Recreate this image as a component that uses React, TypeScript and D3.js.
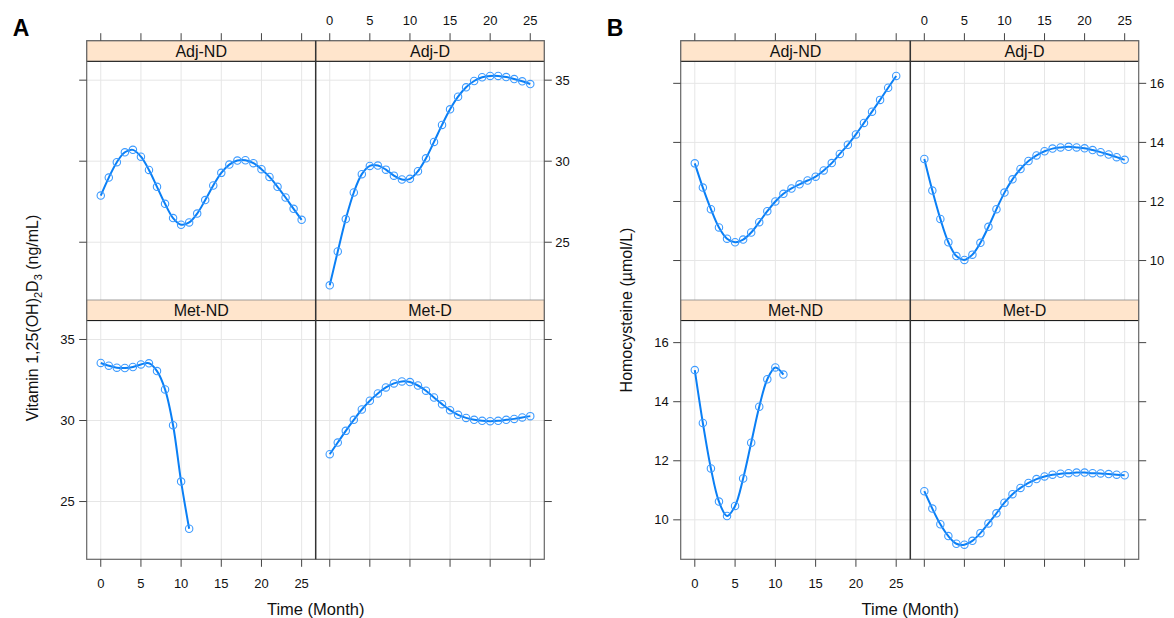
import React from 'react';
import * as d3 from 'd3';

// months of follow-up
const months = [0, 1, 2, 3, 4, 5, 6, 7, 8, 9, 10, 11, 12, 13, 14, 15, 16, 17, 18, 19, 20, 21, 22, 23, 24, 25];
const xTicks = [0, 5, 10, 15, 20, 25];
const panelNames = ['Adj-ND', 'Adj-D', 'Met-ND', 'Met-D'];

// A: vitamin 1,25(OH)2D3 (ng/mL)
const vitAdjND = [27.88, 28.99, 29.94, 30.55, 30.7, 30.28, 29.46, 28.42, 27.37, 26.49, 26.08, 26.22, 26.77, 27.6, 28.5, 29.28, 29.79, 30.04, 30.06, 29.88, 29.51, 29.03, 28.42, 27.76, 27.06, 26.38];
const vitAdjD = [22.34, 24.43, 26.43, 28.07, 29.2, 29.71, 29.73, 29.48, 29.11, 28.87, 28.91, 29.38, 30.18, 31.19, 32.24, 33.2, 33.98, 34.56, 34.95, 35.18, 35.26, 35.26, 35.19, 35.07, 34.93, 34.76];
const vitMetND = [33.55, 33.38, 33.26, 33.24, 33.3, 33.46, 33.53, 33.05, 31.92, 29.71, 26.23, 23.32];
const vitMetD = [27.92, 28.64, 29.36, 30.04, 30.68, 31.22, 31.67, 32.04, 32.29, 32.41, 32.37, 32.16, 31.84, 31.42, 31.01, 30.64, 30.35, 30.16, 30.04, 29.98, 29.96, 29.98, 30.04, 30.1, 30.19, 30.27];
const vitTicks = [25, 30, 35];

// B: homocysteine (umol/L)
const hcyAdjND = [13.29, 12.47, 11.74, 11.12, 10.74, 10.62, 10.71, 10.95, 11.3, 11.67, 12.0, 12.26, 12.44, 12.58, 12.71, 12.84, 13.05, 13.3, 13.61, 13.92, 14.27, 14.66, 15.04, 15.44, 15.85, 16.25];
const hcyAdjD = [13.44, 12.37, 11.41, 10.62, 10.15, 10.02, 10.2, 10.6, 11.14, 11.74, 12.3, 12.75, 13.1, 13.37, 13.56, 13.7, 13.79, 13.83, 13.85, 13.83, 13.8, 13.74, 13.67, 13.59, 13.5, 13.41];
const hcyMetND = [15.07, 13.28, 11.74, 10.62, 10.13, 10.47, 11.4, 12.61, 13.83, 14.76, 15.16, 14.92];
const hcyMetD = [10.97, 10.38, 9.85, 9.45, 9.19, 9.16, 9.29, 9.55, 9.88, 10.22, 10.58, 10.87, 11.08, 11.25, 11.38, 11.47, 11.53, 11.56, 11.58, 11.6, 11.6, 11.58, 11.57, 11.55, 11.53, 11.51];
const hcyTicks = [10, 12, 14, 16];

const FONT = '"Liberation Sans", Arial, sans-serif';
const LINE = '#0a7ff5';
const PT = '#3d9bff';

const stripTop = 40.7;
const stripH = 20.6;
const panelH = 238.7;
const bottom = stripTop + 2 * (stripH + panelH);

// lattice-style 7% padding on the data range
function pad(vals: number[]) {
  const [lo, hi] = d3.extent(vals) as [number, number];
  const p = (hi - lo) * 0.07;
  return [lo - p, hi + p];
}

type FacetProps = {
  tag: string;
  left: number;
  mid: number;
  right: number;
  series: number[][];
  yTicks: number[];
  ylab: React.ReactNode;
  ylabX: number;
  ylabY: number;
};

const Facet = ({ tag, left, mid, right, series, yTicks, ylab, ylabX, ylabY }: FacetProps) => {
  const cols = [
    d3.scaleLinear().domain([-1.75, 26.75]).range([left, mid]),
    d3.scaleLinear().domain([-1.75, 26.75]).range([mid, right]),
  ];
  const yDom = pad(series.flat());
  const rows = [0, 1].map((r) => {
    const top = stripTop + r * (stripH + panelH) + stripH;
    return d3.scaleLinear().domain(yDom).range([top + panelH, top]);
  });

  return (
    <g fontFamily={FONT}>
      <text x={left - 74} y={36} fontSize={23} fontWeight="bold" fill="#000">{tag}</text>
      {series.map((vals, k) => {
        const x = cols[k % 2];
        const y = rows[Math.floor(k / 2)];
        const [y1, y0] = y.range();
        const [x0, x1] = x.range();
        const path = d3.line<number>()
          .x((d, i) => x(months[i]))
          .y((d) => y(d))
          .curve(d3.curveCatmullRom)(vals);
        return (
          <g key={k}>
            {xTicks.map((t) => (
              <line key={'gx' + t} x1={x(t)} x2={x(t)} y1={y0} y2={y1} stroke="#e6e6e6" strokeWidth={1} />
            ))}
            {yTicks.map((t) => (
              <line key={'gy' + t} x1={x0} x2={x1} y1={y(t)} y2={y(t)} stroke="#e6e6e6" strokeWidth={1} />
            ))}
            <path d={path || ''} fill="none" stroke={LINE} strokeWidth={2} />
            {vals.map((v, i) => (
              <circle key={i} cx={x(months[i])} cy={y(v)} r={3.7} fill="none" stroke={PT} strokeWidth={1.1} />
            ))}
            <rect x={x0} y={y0 - stripH} width={x1 - x0} height={stripH} fill="#ffe5cc" stroke="#888" strokeWidth={0.8} />
            <line x1={x0} x2={x1} y1={y0} y2={y0} stroke="#111" strokeWidth={1} />
            <text x={(x0 + x1) / 2} y={y0 - 4.5} textAnchor="middle" fontSize={16} fill="#111">{panelNames[k]}</text>
          </g>
        );
      })}
      {/* frame */}
      <rect x={left} y={stripTop} width={right - left} height={bottom - stripTop} fill="none" stroke="#666" strokeWidth={1.2} />
      <line x1={mid} x2={mid} y1={stripTop} y2={bottom} stroke="#333" strokeWidth={1.5} />

      {/* x ticks: top for both columns, labels on right column; bottom labels on left column */}
      {cols.map((x, c) => (
        <g key={'xt' + c}>
          {xTicks.map((t) => (
            <g key={t}>
              <line x1={x(t)} x2={x(t)} y1={stripTop - 7.5} y2={stripTop} stroke="#444" strokeWidth={1} />
              <line x1={x(t)} x2={x(t)} y1={bottom} y2={bottom + 7.5} stroke="#444" strokeWidth={1} />
              {c === 1 && (
                <text x={x(t)} y={25} textAnchor="middle" fontSize={13} fill="#111">{t}</text>
              )}
              {c === 0 && (
                <text x={x(t)} y={588} textAnchor="middle" fontSize={13} fill="#111">{t}</text>
              )}
            </g>
          ))}
        </g>
      ))}

      {/* y ticks: left labels on lower row, right labels on upper row */}
      {rows.map((y, r) => (
        <g key={'yt' + r}>
          {yTicks.map((t) => (
            <g key={t}>
              <line x1={left - 7.5} x2={left} y1={y(t)} y2={y(t)} stroke="#444" strokeWidth={1} />
              <line x1={right} x2={right + 7.5} y1={y(t)} y2={y(t)} stroke="#444" strokeWidth={1} />
              {r === 1 && (
                <text x={left - 12} y={y(t) + 4.5} textAnchor="end" fontSize={13} fill="#111">{t}</text>
              )}
              {r === 0 && (
                <text x={right + 11} y={y(t) + 4.5} textAnchor="start" fontSize={13} fill="#111">{t}</text>
              )}
            </g>
          ))}
        </g>
      ))}

      <text x={mid} y={615} textAnchor="middle" fontSize={16.5} fill="#111">Time (Month)</text>
      <text transform={`translate(${ylabX},${ylabY}) rotate(-90)`} textAnchor="middle" fontSize={16} fill="#111">{ylab}</text>
    </g>
  );
};

const App = () => {
  return (
    <svg width={1174} height={618} style={{ position: 'absolute', left: 0, top: 0, background: '#fff' }}>
      <rect width={1174} height={618} fill="#fff" />
      <Facet
        tag="A"
        left={86.7}
        mid={315.7}
        right={544.3}
        series={[vitAdjND, vitAdjD, vitMetND, vitMetD]}
        yTicks={vitTicks}
        ylabX={38}
        ylabY={318}
        ylab={
          <>
            Vitamin 1,25(OH)<tspan fontSize={11} dy={4}>2</tspan>
            <tspan dy={-4}>D</tspan>
            <tspan fontSize={11} dy={4}>3</tspan>
            <tspan dy={-4}> (ng/mL)</tspan>
          </>
        }
      />
      <Facet
        tag="B"
        left={680.7}
        mid={910.3}
        right={1138.7}
        series={[hcyAdjND, hcyAdjD, hcyMetND, hcyMetD]}
        yTicks={hcyTicks}
        ylabX={632}
        ylabY={310}
        ylab="Homocysteine (µmol/L)"
      />
    </svg>
  );
};

export default App;
